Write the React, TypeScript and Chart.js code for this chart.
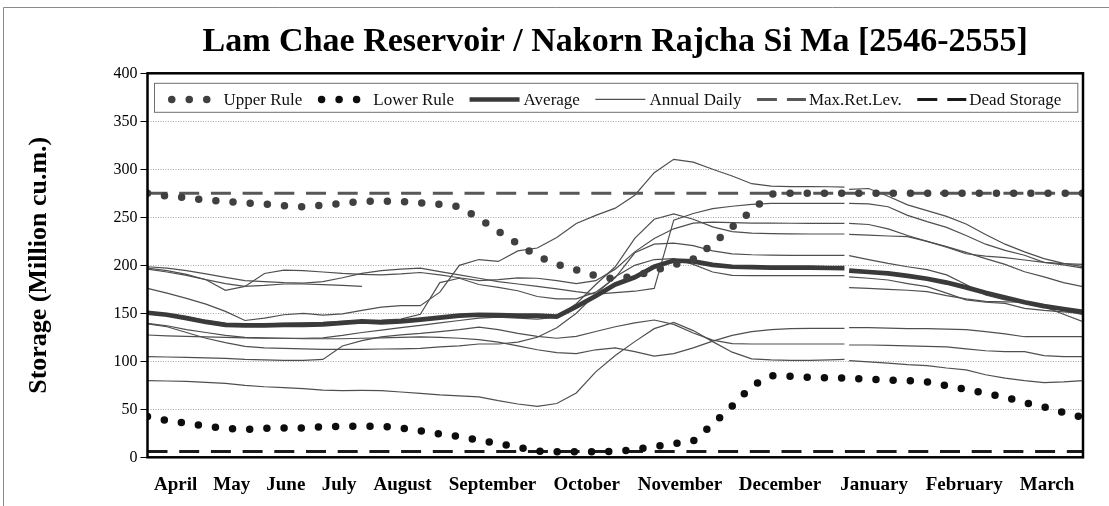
import React, { useEffect, useRef } from 'react';
import { Chart, registerables } from 'chart.js';

Chart.register(...registerables);

const FONT = 'Liberation Serif';

const TITLE = 'Lam Chae Reservoir / Nakorn Rajcha Si Ma [2546-2555]';
const Y_TITLE = 'Storage (Million cu.m.)';

const MONTHS = ['April', 'May', 'June', 'July', 'August', 'September', 'October', 'November', 'December', 'January', 'February', 'March'];
// Where each month label sits along the axis (same units as X).
const MONTH_LABEL_POS = [0.362, 1.08, 1.774, 2.459, 3.271, 4.425, 5.634, 6.83, 8.113, 9.321, 10.476, 11.538];

// Position along the water year, from 1 April (0) to 31 March (12).
// 8.97 is the year break between December and January.
const X = [0, 0.25, 0.5, 0.75, 1, 1.25, 1.5, 1.75, 2, 2.25, 2.5, 2.75, 3, 3.25, 3.5, 3.75, 4, 4.25, 4.5, 4.75, 5, 5.25, 5.5, 5.75, 6, 6.25, 6.5, 6.75, 7, 7.25, 7.5, 7.75, 8, 8.25, 8.5, 8.75, 8.94, 8.97, 9, 9.25, 9.5, 9.75, 10, 10.25, 10.5, 10.75, 11, 11.25, 11.5, 11.75, 12];

const MAX_RET_LEVEL = 275;
const DEAD_STORAGE = 6;

const UPPER_RULE = [275, 272, 270.5, 268, 266.5, 265, 264, 262, 261, 262.5, 264.5, 266.5, 267, 266.5, 265, 263.5, 261, 249, 235.5, 222.5, 209.5, 201, 195.3, 189, 185.5, 189, 194.5, 200.5, 206.5, 222, 239.7, 257, 274.3, 275, 275, 275, 275, 275, 275, 275, 275, 275, 275, 275, 275, 275, 275, 275, 275, 275, 275];

const LOWER_RULE = [42.5, 38.2, 35.5, 32.5, 30, 29, 30.2, 30.5, 30.5, 31.9, 32, 32.5, 32.3, 30.5, 27.5, 24.3, 21.7, 17.8, 14.5, 10.5, 6.5, 5.9, 5.9, 5.9, 6, 8.2, 11.3, 14.2, 16.9, 34.5, 53.3, 74, 85, 84.5, 83.2, 82.8, 82.7, 82.5, 82.5, 81.3, 80.5, 80, 78.6, 74.6, 70.6, 66.7, 62.6, 57, 52.5, 46.6, 41.5];

const AVERAGE = [150.6, 148.5, 145, 141, 138, 137.5, 137.5, 138, 138, 138.5, 140, 141.5, 140.5, 141.5, 143.5, 145.5, 147.5, 148.5, 148, 147.5, 147.5, 146.5, 157, 168, 180, 187.5, 198.5, 205, 204, 200.5, 198.5, 198, 197.5, 197.5, 197.5, 197.2, 197, null, 194.5, 193, 191.5, 189, 186, 182, 177, 171.5, 166.5, 161.5, 157.5, 154.5, 151.5];

const YEAR_1 = [176, 171, 165.5, 159.5, 152, 142.5, 145, 148.5, 150, 148, 149.5, 153, 156.5, 158, 158, 172, 200, 206, 204, 215, 218, 229, 243.5, 252, 259.5, 273, 296.5, 310.4, 307.5, 300, 293, 285, 282.5, 282, 282, 281.8, 281.5, null, 279, 280, 272, 263, 257, 251, 243, 232, 222, 214, 207, 202, 198.6];
const YEAR_2 = [198.5, 197, 194.5, 191, 187.5, 184, 183, 182, 181.5, 183, 187, 191.5, 194.5, 196, 197, 193.5, 190, 186.5, 183, 180.5, 178, 175.5, 172.5, 170, 171.5, 173, 176, 247, 254, 259, 261.5, 263.5, 264.5, 264.6, 264.6, 264.6, 264.6, null, 264.6, 264, 261, 252, 245.5, 239.5, 231, 222, 215.5, 210.5, 203, 201.8, 201];
const YEAR_3 = [197, 194.5, 190.5, 185, 174, 178, 191.5, 195, 194.5, 193, 191.5, 190.5, 190, 191, 192.5, 190, 187, 184, 185, 187, 186.5, 184, 181, 184, 196, 214, 228, 238, 244, 245, 244.5, 244, 244, 243.8, 243.7, 243.7, 243.7, null, 243.7, 242.5, 238, 231, 225, 219, 212, 209.5, 208, 205.5, 203, 200.5, 197];
const YEAR_4 = [139.6, 137, 133, 130, 127, 125, 124.5, 124, 124, 124.5, 127, 130, 132.5, 135, 137.5, 140, 142.5, 145, 146, 145, 144, 146, 160, 180, 198.5, 228, 248, 253.5, 248, 240, 235, 233.5, 233, 232.8, 232.6, 232.6, 232.6, null, 232.3, 231.5, 230.5, 229.8, 225, 219.4, 213.5, 207, 201, 193.3, 188, 182, 177.7];
const YEAR_5 = [151.5, 149.5, 146.5, 142.5, 139.5, 139, 139, 139.5, 140, 140.5, 141.5, 142.5, 143, 144, 149, 182, 186.5, 180, 177, 173.5, 167.5, 165, 165, 172, 187, 213, 222, 223, 220.5, 215, 212, 211, 210.5, 210.4, 210.4, 210.4, 210.4, null, 210, 206, 202, 198.5, 195.5, 190, 180, 169, 164, 162, 157, 149, 141.3];
const YEAR_6 = [139, 136, 130, 124, 119.5, 115.5, 114, 113.5, 113, 112.5, 112.5, 112.5, 112.8, 113, 113.5, 115, 116, 118, 118, 120, 125, 135, 150, 170, 188, 200, 206, 207, 201, 193, 189.5, 189.2, 189.2, 189.2, 189.2, 189.2, 189.2, null, 188, 186.5, 184.7, 181, 177.7, 171, 164, 161.5, 160.4, 155.2, 153, 151.5, 150];
const YEAR_8 = [127.4, 126.5, 126, 125.5, 125, 124.5, 124, 124, 123.5, 123.5, 123.5, 124, 124.5, 125, 125.5, 125, 124, 122.5, 120, 116, 112, 109, 108, 112, 114, 110, 105.5, 108, 114, 121, 127, 131, 133, 134, 134.4, 134.4, 134.4, null, 135, 135, 134.5, 134, 134, 133.5, 133, 131, 128.5, 125.6, 125.6, 125.6, 125.6];
const YEAR_9 = [104.8, 104.5, 104, 103.5, 103, 102, 101.5, 101, 101, 102, 116, 121.5, 125.5, 127.5, 129, 131, 133, 135.5, 133, 129, 126, 124, 126, 131, 136, 140, 143, 138.5, 129.5, 122, 118.5, 118, 118, 118, 118, 118, 118, null, 117, 117, 116.5, 116, 115.5, 115, 113, 111, 110, 110, 106, 104.8, 104.8];
const YEAR_10 = [79.8, 79.5, 79, 78, 77, 75, 73.5, 72.5, 71.5, 70, 69.5, 69.7, 69.5, 68, 66.5, 65, 64, 63, 59, 55.5, 53, 56, 67, 89, 106, 120.5, 134, 140.5, 132, 120.5, 109.5, 102.5, 101.5, 101, 101, 101.5, 102, null, 100.6, 99.5, 98, 96.5, 95.5, 93, 91, 86, 82.5, 79.8, 77.8, 78.5, 79.8];
// Partial years: the last one stops in July, the first one starts in January.
const YEAR_LAST_PART = [196, 193, 189.5, 185, 181, 178, 179, 180.5, 180.5, 179.8, 179, 178];
const YEAR_FIRST_PART = [176.7, 176, 175, 174, 172.5, 168.5, 165, 162.5, 162, 161.5, 157.5, 153, 148.5];

const ANNUAL_SERIES = [
  { values: YEAR_1, start: 0 },
  { values: YEAR_2, start: 0 },
  { values: YEAR_3, start: 0 },
  { values: YEAR_4, start: 0 },
  { values: YEAR_5, start: 0 },
  { values: YEAR_6, start: 0 },
  { values: YEAR_8, start: 0 },
  { values: YEAR_9, start: 0 },
  { values: YEAR_10, start: 0 },
  { values: YEAR_LAST_PART, start: 0 },
  { values: YEAR_FIRST_PART, start: 38 },
];

const UR_COLOR = '#404040';
const LR_COLOR = '#0d0d0d';
const AVG_COLOR = '#3a3a3a';
const ANNUAL_COLOR = '#4f4f4f';
const MAX_COLOR = '#575757';
const DEAD_COLOR = '#1a1a1a';

const LEGEND_ITEMS = [
  { label: 'Upper Rule', kind: 'dots', color: UR_COLOR, width: 7.5 },
  { label: 'Lower Rule', kind: 'dots', color: LR_COLOR, width: 7.5 },
  { label: 'Average', kind: 'line', color: AVG_COLOR, width: 4.5 },
  { label: 'Annual Daily', kind: 'line', color: ANNUAL_COLOR, width: 1.2 },
  { label: 'Max.Ret.Lev.', kind: 'dash', color: MAX_COLOR, width: 3 },
  { label: 'Dead Storage', kind: 'dash', color: DEAD_COLOR, width: 3 },
];

const toPoints = (values: (number | null)[], start = 0) =>
  values.map((y, i) => ({ x: X[start + i], y }));

const backgroundPlugin = {
  id: 'pageBackground',
  beforeDraw(chart: any) {
    const { ctx, width, height } = chart;
    ctx.save();
    ctx.fillStyle = '#ffffff';
    ctx.fillRect(0, 0, width, height);
    ctx.strokeStyle = '#8a8a8a';
    ctx.lineWidth = 1;
    ctx.beginPath();
    ctx.moveTo(3.5, height);
    ctx.lineTo(3.5, 7.5);
    ctx.lineTo(width, 7.5);
    ctx.stroke();
    ctx.restore();
  },
};

const insideLegendPlugin = {
  id: 'insideLegend',
  afterDatasetsDraw(chart: any) {
    const { ctx, chartArea: a } = chart;
    const bx = a.left + 6.5;
    const by = a.top + 9.5;
    const bw = a.right - 4.7 - bx;
    const bh = 30;
    ctx.save();
    ctx.fillStyle = '#ffffff';
    ctx.fillRect(bx, by, bw, bh);
    ctx.strokeStyle = '#6e6e6e';
    ctx.lineWidth = 1;
    ctx.strokeRect(bx + 0.5, by + 0.5, bw - 1, bh - 1);
    const cy = by + 16.6;
    const baseY = by + 22.4;
    ctx.font = `17px "${FONT}"`;
    ctx.textBaseline = 'alphabetic';
    ctx.textAlign = 'left';
    let x = bx + 14;
    for (const it of LEGEND_ITEMS) {
      let textX = x;
      if (it.kind === 'dots') {
        ctx.fillStyle = it.color;
        for (let k = 0; k < 3; k++) {
          ctx.beginPath();
          ctx.arc(x + it.width / 2 + k * 17.5, cy, it.width / 2, 0, Math.PI * 2);
          ctx.fill();
        }
        textX = x + it.width + 35 + 13;
      } else {
        const len = it.kind === 'line' ? 50 : 49;
        ctx.strokeStyle = it.color;
        ctx.lineWidth = it.width;
        ctx.setLineDash(it.kind === 'dash' ? [20, 10] : []);
        ctx.beginPath();
        ctx.moveTo(x, cy);
        ctx.lineTo(x + len, cy);
        ctx.stroke();
        ctx.setLineDash([]);
        textX = x + len + (it.kind === 'line' ? 4 : 3);
      }
      ctx.fillStyle = '#111111';
      ctx.fillText(it.label, textX, baseY);
      x = textX + ctx.measureText(it.label).width + 15.5;
    }
    ctx.restore();
  },
};

const framePlugin = {
  id: 'plotFrame',
  afterDatasetsDraw(chart: any) {
    const { ctx, chartArea: a } = chart;
    ctx.save();
    ctx.strokeStyle = '#000000';
    ctx.lineWidth = 2.5;
    ctx.strokeRect(a.left, a.top, a.right - a.left, a.bottom - a.top);
    ctx.restore();
  },
};

export default function App() {
  const canvasRef = useRef<HTMLCanvasElement | null>(null);

  useEffect(() => {
    const canvas = canvasRef.current;
    if (!canvas) return;

    const annualDatasets = ANNUAL_SERIES.map((s, i) => ({
      label: i === 0 ? 'Annual Daily' : `Annual Daily ${i + 1}`,
      data: toPoints(s.values, s.start),
      borderColor: ANNUAL_COLOR,
      borderWidth: 1.2,
      pointRadius: 0,
      tension: 0,
      spanGaps: false,
      order: 5,
    }));

    const chart = new Chart(canvas, {
      type: 'line',
      data: {
        datasets: [
          {
            label: 'Upper Rule',
            data: toPoints(UPPER_RULE),
            borderColor: UR_COLOR,
            borderWidth: 7.5,
            borderDash: [0, 17.2],
            borderCapStyle: 'round',
            borderJoinStyle: 'round',
            pointRadius: 0,
            tension: 0,
            order: 0,
          },
          {
            label: 'Lower Rule',
            data: toPoints(LOWER_RULE),
            borderColor: LR_COLOR,
            borderWidth: 7.5,
            borderDash: [0, 17.2],
            borderCapStyle: 'round',
            borderJoinStyle: 'round',
            pointRadius: 0,
            tension: 0,
            order: 1,
          },
          {
            label: 'Average',
            data: toPoints(AVERAGE),
            borderColor: AVG_COLOR,
            borderWidth: 4.7,
            pointRadius: 0,
            tension: 0,
            spanGaps: false,
            order: 2,
          },
          {
            label: 'Max.Ret.Lev.',
            data: [{ x: X[0], y: MAX_RET_LEVEL }, { x: X[X.length - 1], y: MAX_RET_LEVEL }],
            borderColor: MAX_COLOR,
            borderWidth: 3,
            borderDash: [20, 11.7],
            pointRadius: 0,
            order: 3,
          },
          {
            label: 'Dead Storage',
            data: [{ x: X[0], y: DEAD_STORAGE }, { x: X[X.length - 1], y: DEAD_STORAGE }],
            borderColor: DEAD_COLOR,
            borderWidth: 3,
            borderDash: [20, 11.7],
            pointRadius: 0,
            order: 3,
          },
          ...annualDatasets,
        ],
      } as any,
      options: {
        responsive: false,
        animation: false,
        devicePixelRatio: 1,
        events: [],
        layout: { padding: { left: 0, right: 26, top: 0, bottom: 0 } },
        plugins: {
          legend: { display: false },
          tooltip: { enabled: false },
          title: {
            display: true,
            text: TITLE,
            fullSize: false,
            color: '#000000',
            font: { family: FONT, size: 34, weight: 'bold' },
            padding: { top: 22, bottom: 10.5 },
          },
        },
        scales: {
          x: {
            type: 'linear',
            min: 0,
            max: 12,
            afterBuildTicks: (scale: any) => {
              scale.ticks = MONTH_LABEL_POS.map((value) => ({ value }));
            },
            afterFit: (scale: any) => {
              scale.height = 48.7;
            },
            grid: { display: false, drawTicks: false },
            border: { display: false },
            ticks: {
              autoSkip: false,
              maxRotation: 0,
              minRotation: 0,
              padding: 16.6,
              color: '#000000',
              font: { family: FONT, size: 19, weight: 'bold' },
              callback: (_value: any, index: number) => MONTHS[index],
            },
          },
          y: {
            min: 0,
            max: 400,
            afterFit: (scale: any) => {
              scale.width = 147.5;
            },
            grid: {
              color: '#a6a6a6',
              lineWidth: 1,
              drawTicks: true,
              tickLength: 7,
              tickColor: '#000000',
              tickWidth: 1,
            },
            border: { display: false, dash: [1, 1.5] },
            ticks: {
              stepSize: 50,
              padding: 3,
              color: '#000000',
              font: { family: FONT, size: 16 },
            },
            title: {
              display: true,
              text: Y_TITLE,
              color: '#000000',
              font: { family: FONT, size: 26, weight: 'bold' },
              padding: { top: 24, bottom: 0 },
            },
          },
        },
      } as any,
      plugins: [backgroundPlugin, insideLegendPlugin, framePlugin],
    });

    return () => chart.destroy();
  }, []);

  return (
    <div style={{ position: 'fixed', left: 0, top: 0, width: 1109, height: 506, background: '#ffffff' }}>
      <canvas ref={canvasRef} width={1109} height={506} style={{ display: 'block', width: 1109, height: 506 }} />
    </div>
  );
}
